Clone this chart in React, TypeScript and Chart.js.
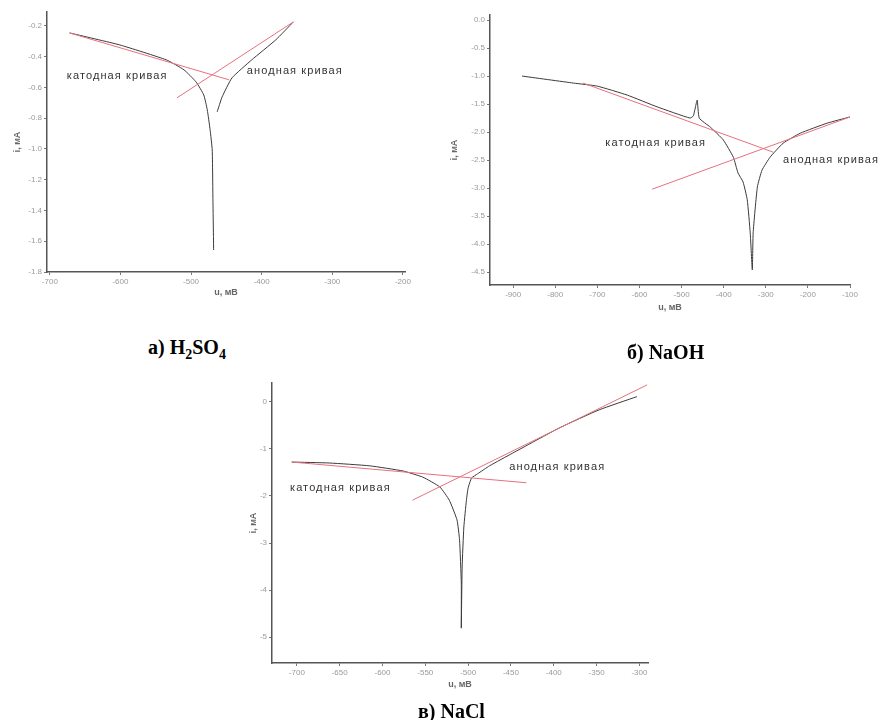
import React, { useEffect, useRef } from "react";
import { Chart, registerables } from "chart.js";
Chart.register(...registerables);

// ---------- a) H2SO4 ----------
const aCathU = [-672, -601, -535, -510, -493, -482, -477, -473, -470, -469, -468];
const aCathI = [-0.246, -0.324, -0.421, -0.486, -0.564, -0.649, -0.746, -0.876, -1.007, -1.332, -1.657];
const aAnodU = [-463, -456, -442, -414, -380, -355];
const aAnodI = [-0.759, -0.662, -0.538, -0.421, -0.291, -0.174];
const aCathTanU = [-672, -446];
const aCathTanI = [-0.246, -0.551];
const aAnodTanU = [-520, -355];
const aAnodTanI = [-0.668, -0.174];
const aXTicks = [-700, -600, -500, -400, -300, -200];
const aXLabels = ["-700", "-600", "-500", "-400", "-300", "-200"];
const aYTicks = [-0.2, -0.4, -0.6, -0.8, -1.0, -1.2, -1.4, -1.6, -1.8];
const aYLabels = ["-0.2", "-0.4", "-0.6", "-0.8", "-1.0", "-1.2", "-1.4", "-1.6", "-1.8"];
const aNoteText = ["катодная кривая", "анодная кривая"];
const aNoteU = [-676, -421];
const aNoteI = [-0.525, -0.493];

// ---------- б) NaOH ----------
const bCathU = [-879, -757, -700, -629, -558, -480, -472, -463, -458, -432, -401, -377, -366, -354, -344, -337, -332];
const bCathI = [-1.0, -1.125, -1.18, -1.34, -1.55, -1.75, -1.71, -1.43, -1.75, -1.91, -2.14, -2.45, -2.73, -2.89, -3.21, -3.8, -4.46];
const bAnodU = [-332, -330, -320, -309, -290, -259, -218, -154, -100];
const bAnodI = [-4.46, -3.8, -2.98, -2.68, -2.45, -2.2, -2.02, -1.84, -1.73];
const bCathTanU = [-734, -282];
const bCathTanI = [-1.125, -2.36];
const bAnodTanU = [-570, -100];
const bAnodTanI = [-3.02, -1.73];
const bXTicks = [-900, -800, -700, -600, -500, -400, -300, -200, -100];
const bXLabels = ["-900", "-800", "-700", "-600", "-500", "-400", "-300", "-200", "-100"];
const bYTicks = [0, -0.5, -1.0, -1.5, -2.0, -2.5, -3.0, -3.5, -4.0, -4.5];
const bYLabels = ["0.0", "-0.5", "-1.0", "-1.5", "-2.0", "-2.5", "-3.0", "-3.5", "-4.0", "-4.5"];
const bNoteText = ["катодная кривая", "анодная кривая"];
const bNoteU = [-681, -259];
const bNoteI = [-2.2, -2.5];

// ---------- в) NaCl ----------
const cCathU = [-706, -662, -615, -576, -553, -533, -522, -513, -510, -508, -508];
const cCathI = [-1.28, -1.3, -1.36, -1.47, -1.6, -1.81, -2.09, -2.51, -2.94, -3.85, -4.81];
const cAnodU = [-508, -507, -505, -502, -500, -496, -489, -475, -448, -393, -347, -303];
const cAnodI = [-4.81, -3.51, -2.66, -2.09, -1.83, -1.62, -1.53, -1.36, -1.09, -0.55, -0.17, 0.11];
const cCathTanU = [-706, -432];
const cCathTanI = [-1.28, -1.72];
const cAnodTanU = [-565, -291];
const cAnodTanI = [-2.09, 0.36];
const cXTicks = [-700, -650, -600, -550, -500, -450, -400, -350, -300];
const cXLabels = ["-700", "-650", "-600", "-550", "-500", "-450", "-400", "-350", "-300"];
const cYTicks = [0, -1, -2, -3, -4, -5];
const cYLabels = ["0", "-1", "-2", "-3", "-4", "-5"];
const cNoteText = ["катодная кривая", "анодная кривая"];
const cNoteU = [-708, -452];
const cNoteI = [-1.83, -1.38];

const zip = (u: number[], i: number[]) => u.map((x, k) => ({ x, y: i[k] }));

const CURVE = "#3a3a3a";
const TAN = "#e8707e";

type Spec = {
  left: number; top: number; w: number; h: number;
  pad: { left: number; right: number; top: number; bottom: number };
  yW: number; xH: number;
  xMin: number; xMax: number; yMin: number; yMax: number;
  xTicks: number[]; xLabels: string[]; yTicks: number[]; yLabels: string[];
  curves: { u: number[]; i: number[] }[];
  tangents: { u: number[]; i: number[] }[];
  notes: { text: string[]; u: number[]; i: number[] };
};

const specs: Spec[] = [
  {
    left: 0, top: 0, w: 420, h: 310,
    pad: { left: 12, right: 15, top: 12, bottom: 11.6 },
    yW: 35, xH: 26.4,
    xMin: -704, xMax: -197, yMin: -1.8, yMax: -0.11,
    xTicks: aXTicks, xLabels: aXLabels, yTicks: aYTicks, yLabels: aYLabels,
    curves: [{ u: aCathU, i: aCathI }, { u: aAnodU, i: aAnodI }],
    tangents: [{ u: aCathTanU, i: aCathTanI }, { u: aAnodTanU, i: aAnodTanI }],
    notes: { text: aNoteText, u: aNoteU, i: aNoteI },
  },
  {
    left: 440, top: 0, w: 444, h: 320,
    pad: { left: 9.6, right: 34, top: 15, bottom: 6.6 },
    yW: 40.4, xH: 28.4,
    xMin: -955, xMax: -100, yMin: -4.73, yMax: 0.09,
    xTicks: bXTicks, xLabels: bXLabels, yTicks: bYTicks, yLabels: bYLabels,
    curves: [{ u: [...bCathU, ...bAnodU.slice(1)], i: [...bCathI, ...bAnodI.slice(1)] }],
    tangents: [{ u: bCathTanU, i: bCathTanI }, { u: bAnodTanU, i: bAnodTanI }],
    notes: { text: bNoteText, u: bNoteU, i: bNoteI },
  },
  {
    left: 230, top: 360, w: 430, h: 340,
    pad: { left: 18.6, right: 12, top: 23, bottom: 9.6 },
    yW: 23.4, xH: 27.4,
    xMin: -729, xMax: -290, yMin: -5.55, yMax: 0.4,
    xTicks: cXTicks, xLabels: cXLabels, yTicks: cYTicks, yLabels: cYLabels,
    curves: [{ u: [...cCathU, ...cAnodU.slice(1)], i: [...cCathI, ...cAnodI.slice(1)] }],
    tangents: [{ u: cCathTanU, i: cCathTanI }, { u: cAnodTanU, i: cAnodTanI }],
    notes: { text: cNoteText, u: cNoteU, i: cNoteI },
  },
];

function TafelChart({ s }: { s: Spec }) {
  const ref = useRef<HTMLCanvasElement | null>(null);
  useEffect(() => {
    if (!ref.current) return;
    const notePlugin = {
      id: "notes",
      afterDatasetsDraw(chart: any) {
        const ctx = chart.ctx;
        const xs = chart.scales.x;
        const ys = chart.scales.y;
        ctx.save();
        ctx.font = "11px 'Liberation Sans', Arial, sans-serif";
        try { (ctx as any).letterSpacing = "1.1px"; } catch (e) { /* ignore */ }
        ctx.fillStyle = "#333";
        ctx.textAlign = "left";
        ctx.textBaseline = "middle";
        s.notes.text.forEach((t, k) => {
          ctx.fillText(t, xs.getPixelForValue(s.notes.u[k]), ys.getPixelForValue(s.notes.i[k]));
        });
        ctx.restore();
      },
    };
    const datasets: any[] = [
      ...s.tangents.map((c) => ({
        data: zip(c.u, c.i), showLine: true, borderColor: TAN, borderWidth: 1,
        pointRadius: 0, tension: 0, order: 1,
      })),
      ...s.curves.map((c) => ({
        data: zip(c.u, c.i), showLine: true, borderColor: CURVE, borderWidth: 1,
        pointRadius: 0, tension: 0.15, order: 2,
      })),
    ];
    const tickFont = { size: 8, family: "'Liberation Sans', Arial, sans-serif" };
    const titleFont = { size: 9, weight: "bold" as const, family: "'Liberation Sans', Arial, sans-serif" };
    const chart = new Chart(ref.current, {
      type: "scatter",
      data: { datasets },
      options: {
        animation: false,
        responsive: false,
        maintainAspectRatio: false,
        events: [],
        layout: { padding: s.pad },
        plugins: { legend: { display: false }, tooltip: { enabled: false } },
        scales: {
          x: {
            type: "linear",
            min: s.xMin,
            max: s.xMax,
            afterBuildTicks: (sc: any) => { sc.ticks = s.xTicks.map((v) => ({ value: v })); },
            afterFit: (sc: any) => { sc.height = s.xH; sc.paddingLeft = 0; sc.paddingRight = 0; },
            ticks: {
              autoSkip: false, maxRotation: 0, padding: 2, color: "#9a9a9a", font: tickFont,
              callback: (_v: any, idx: number) => s.xLabels[idx],
            },
            grid: { drawOnChartArea: false, drawTicks: true, tickLength: 3, color: "#777" },
            border: { display: true, color: "#555", width: 1.5 },
            title: { display: true, text: "u, мВ", padding: 0, color: "#666", font: titleFont },
          },
          y: {
            type: "linear",
            min: s.yMin,
            max: s.yMax,
            afterBuildTicks: (sc: any) => { sc.ticks = s.yTicks.map((v) => ({ value: v })); },
            afterFit: (sc: any) => { sc.width = s.yW; sc.paddingTop = 0; sc.paddingBottom = 0; },
            ticks: {
              autoSkip: false, padding: 2, color: "#9a9a9a", font: tickFont,
              callback: (_v: any, idx: number) => s.yLabels[idx],
            },
            grid: { drawOnChartArea: false, drawTicks: true, tickLength: 3, color: "#777" },
            border: { display: true, color: "#555", width: 1.5 },
            title: { display: true, text: "i, мА", padding: 0, color: "#666", font: titleFont },
          },
        },
      } as any,
      plugins: [notePlugin],
    });
    return () => chart.destroy();
  }, [s]);
  return (
    <canvas
      ref={ref}
      width={s.w}
      height={s.h}
      style={{ position: "absolute", left: s.left, top: s.top, width: s.w, height: s.h }}
    />
  );
}

const captionStyle: React.CSSProperties = {
  position: "absolute",
  fontFamily: "'Liberation Serif', 'Times New Roman', serif",
  fontWeight: "bold",
  fontSize: 20,
  lineHeight: "24px",
  color: "#000",
  whiteSpace: "nowrap",
};

export default function App() {
  return (
    <div style={{ position: "absolute", left: 0, top: 0, width: 884, height: 720, background: "#fff", overflow: "hidden" }}>
      {specs.map((s, k) => (
        <TafelChart key={k} s={s} />
      ))}
      <div style={{ ...captionStyle, left: 148, top: 335 }}>
        а) H<sub style={{ fontSize: 14 }}>2</sub>SO<sub style={{ fontSize: 14 }}>4</sub>
      </div>
      <div style={{ ...captionStyle, left: 627, top: 340 }}>б) NaOH</div>
      <div style={{ ...captionStyle, left: 418, top: 699 }}>в) NaCl</div>
    </div>
  );
}
